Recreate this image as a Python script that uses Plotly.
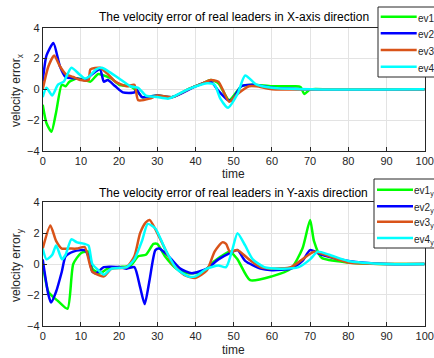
import plotly.graph_objects as go

W, H = 434, 358

names = ["ev1", "ev2", "ev3", "ev4"]
colors = ["#00FF00", "#0000FF", "#D95319", "#00FFFF"]
x_ticks = [0, 10, 20, 30, 40, 50, 60, 70, 80, 90, 100]
y_ticks = [-4, -2, 0, 2, 4]

# ---- X-axis direction velocity errors (time, value) ----
ev1_x_t = [0, 1, 2.3, 3.5, 5, 6, 7, 9, 11, 12.5, 14.5, 16, 18, 20, 23, 25, 26, 30, 34, 38, 42, 44, 46, 48.8, 52, 55, 60, 66, 67.5, 68.5, 70, 75, 100]
ev1_x_v = [-1.0, -2.2, -2.75, -1.5, 0.3, 0.2, 0.5, 0.7, 0.6, 0.5, 1.0, 0.9, 0.7, 0.3, 0.2, -0.2, -0.5, -0.4, -0.5, 0.0, 0.4, 0.6, 0.4, -0.7, 0.2, 0.3, 0.2, 0.2, 0.15, -0.3, 0.0, 0.0, 0.0]
ev2_x_t = [0, 1, 2.8, 4.5, 6, 9, 11, 13, 15, 16, 17, 19, 21, 24, 24.5, 26, 30, 34, 40, 44, 46, 48.5, 49.5, 52, 55, 60, 70, 100]
ev2_x_v = [0.5, 2.2, 3.0, 1.5, 0.8, 0.7, 0.6, 1.0, 1.3, 0.5, 0.6, 0.2, -0.2, -0.2, 0.0, -0.5, -0.4, -0.5, 0.2, 0.5, -0.1, -0.7, -0.7, 0.2, 0.3, 0.1, 0.0, 0.0]
ev3_x_t = [0, 1.5, 3, 4.5, 6, 8, 10, 12, 12.5, 15, 17, 19, 22, 24, 25, 28, 30, 34, 38, 42, 44, 46, 48.8, 51, 54, 56, 60, 70, 100]
ev3_x_v = [0.0, 1.5, 2.2, 1.5, 1.0, 0.8, 0.6, 0.6, 1.3, 1.4, 1.0, 0.5, 0.2, 0.3, -0.7, -0.6, -0.4, -0.5, 0.0, 0.4, 0.6, 0.5, -0.8, -0.3, 0.2, 0.2, 0.0, 0.0, 0.0]
ev4_x_t = [0, 1, 2.5, 4, 5.5, 7.5, 9.5, 11, 12, 14, 15.5, 17, 20, 23, 25, 27, 30, 33, 38, 43, 45, 46.5, 48.5, 51, 53, 56, 60, 70, 100]
ev4_x_v = [-0.5, 0.1, -0.4, 0.3, 0.5, 1.4, 1.0, 0.7, 0.8, 1.3, 1.4, 1.2, 0.7, 0.2, 0.1, -0.4, -0.5, -0.6, 0.0, 0.4, 0.3, -0.6, -1.2, -0.3, 0.9, 0.3, 0.1, 0.0, 0.0]

# ---- Y-axis direction velocity errors (time, value) ----
ev1_y_t = [0, 1.5, 3, 4, 6.5, 8, 10, 12, 13, 15, 17, 20, 23, 25, 27, 29, 30, 32, 35, 38, 42, 45, 49, 51, 54.3, 60, 65, 68, 70, 71, 73, 80, 90, 100]
ev1_y_v = [0.0, -1.8, -2.2, -2.4, -2.9, 0.0, 0.7, 0.8, -0.3, -0.6, -0.3, -0.2, -0.1, 0.5, 0.6, 1.3, 1.3, 0.5, -0.3, -0.6, -0.5, 0.2, 0.8, 0.3, -1.05, -0.8, -0.3, 1.0, 2.85, 1.5, 0.4, 0.1, 0.0, 0.0]
ev2_y_t = [0, 1.5, 2.2, 3.5, 5, 6, 8, 10, 11, 12, 13, 14, 15, 16, 20, 22, 24, 25.5, 26.7, 28, 29.5, 30.5, 33, 36, 39, 43, 46, 49, 51, 53, 57, 60, 65, 68, 70, 73, 80, 90, 100]
ev2_y_v = [0.3, -2.0, -2.5, -1.8, -0.5, 0.5, 0.8, 0.9, 0.9, 0.5, -0.5, -0.6, -0.4, -0.2, -0.2, -0.3, -0.2, -1.5, -2.6, -1.0, 0.9, 1.0, 0.5, -0.3, -0.6, -0.3, 0.3, 0.7, 0.9, 0.2, -0.3, -0.4, -0.3, 0.2, 0.9, 0.6, 0.2, 0.0, 0.0]
ev3_y_t = [0, 2, 3.5, 5, 7, 9, 11, 13, 16, 18, 22, 24, 25.5, 27, 28, 31, 34, 37, 40, 43, 45, 47, 48, 49, 51, 54, 57, 60, 65, 68, 71, 75, 80, 90, 100]
ev3_y_v = [1.0, 2.5, 1.5, 1.0, 1.0, 1.0, 1.1, -0.5, -0.8, -0.3, -0.2, 0.5, 2.0, 2.7, 2.85, 1.5, 0.0, -0.7, -0.9, -0.4, 0.8, 1.4, 1.3, 0.8, 0.9, 0.3, -0.2, -0.3, -0.2, 0.3, 0.8, 0.5, 0.1, 0.0, 0.0]
ev4_y_t = [0, 1, 2.5, 3.5, 4.5, 5, 6, 7.5, 9, 11, 12, 13, 15, 16, 18, 22, 24, 26, 27.5, 29.5, 32, 35, 38, 40, 43, 46, 48, 49.5, 51, 53, 55, 58, 62, 67, 70, 72, 75, 80, 90, 100]
ev4_y_v = [1.0, 0.3, 0.6, 1.2, 0.6, 0.3, 0.6, 1.6, 1.4, 1.3, 1.2, 0.0, -0.5, -0.7, -0.3, -0.2, 0.3, 1.5, 2.6, 2.3, 1.0, -0.3, -0.8, -0.8, -0.3, -0.1, -0.2, 0.8, 2.0, 1.2, 0.3, -0.2, -0.3, -0.2, 0.3, 0.8, 0.6, 0.2, 0.0, 0.0]

x_series = [(ev1_x_t, ev1_x_v), (ev2_x_t, ev2_x_v), (ev3_x_t, ev3_x_v), (ev4_x_t, ev4_x_v)]
y_series = [(ev1_y_t, ev1_y_v), (ev2_y_t, ev2_y_v), (ev3_y_t, ev3_y_v), (ev4_y_t, ev4_y_v)]

fig = go.Figure()
for i, (t, v) in enumerate(x_series):
    fig.add_trace(go.Scatter(x=t, y=v, mode="lines", name=names[i] + "<sub>x</sub>",
                             line=dict(color=colors[i], width=2.5, shape="spline", smoothing=0.6),
                             xaxis="x", yaxis="y", showlegend=False))
for i, (t, v) in enumerate(y_series):
    fig.add_trace(go.Scatter(x=t, y=v, mode="lines", name=names[i] + "<sub>y</sub>",
                             line=dict(color=colors[i], width=2.5, shape="spline", smoothing=0.6),
                             xaxis="x2", yaxis="y2", showlegend=False))

x0p, x1p = 42.7 / W, 424.7 / W
top_dom = [1 - 151 / H, 1 - 27.7 / H]
bot_dom = [1 - 325.7 / H, 1 - 202.3 / H]

axis_common = dict(showline=True, linecolor="#262626", linewidth=1, mirror=True,
                   ticks="inside", ticklen=4, tickcolor="#262626",
                   showgrid=True, gridcolor="#E3E3E3", gridwidth=1, zeroline=False,
                   tickfont=dict(family="Liberation Sans, Arial", size=11, color="#262626"))

fig.update_layout(
    width=W, height=H,
    margin=dict(l=0, r=0, t=0, b=0, autoexpand=False),
    paper_bgcolor="white", plot_bgcolor="white",
    xaxis=dict(domain=[x0p, x1p], range=[0, 100], tickvals=x_ticks, anchor="y", **axis_common),
    yaxis=dict(domain=top_dom, range=[-4, 4], tickvals=y_ticks, anchor="x", **axis_common),
    xaxis2=dict(domain=[x0p, x1p], range=[0, 100], tickvals=x_ticks, anchor="y2", **axis_common),
    yaxis2=dict(domain=bot_dom, range=[-4, 4], tickvals=y_ticks, anchor="x2", **axis_common),
    showlegend=False,
)

title_font = dict(family="Liberation Sans, Arial", size=12, color="black")
label_font = dict(family="Liberation Sans, Arial", size=12, color="#262626")
leg_font = dict(family="Liberation Sans, Arial", size=10, color="#262626")


def px(xp, yp):
    return xp / W, 1 - yp / H


ann = [
    dict(text="The velocity error of real leaders in X-axis direction", pos=(233.7, 17.5), font=title_font),
    dict(text="The velocity error of real leaders in Y-axis direction", pos=(233.7, 193), font=title_font),
    dict(text="time", pos=(233.7, 174), font=label_font),
    dict(text="time", pos=(233.7, 350), font=label_font),
    dict(text="velocity error<sub>x</sub>", pos=(17, 90), textangle=-90, font=label_font),
    dict(text="velocity error<sub>y</sub>", pos=(17, 265), textangle=-90, font=label_font),
]
for a in ann:
    xx, yy = px(*a.pop("pos"))
    fig.add_annotation(x=xx, y=yy, xref="paper", yref="paper", showarrow=False,
                       xanchor="center", yanchor="middle", **a)

# custom legend boxes (two panels), matching the MATLAB legend geometry
legends = [
    dict(box=(378, 7, 470, 77), line=(380.7, 416.7), text_x=416.5, rows=[16.7, 33.3, 50.0, 66.7], sub="x"),
    dict(box=(374, 179, 470, 248), line=(377, 413), text_x=413, rows=[189.7, 206.3, 221.8, 238.0], sub="y"),
]
for lg in legends:
    bx0, by0, bx1, by1 = lg["box"]
    (ax0, ay0), (ax1, ay1) = px(bx0, by0), px(bx1, by1)
    fig.add_shape(type="rect", xref="paper", yref="paper", x0=ax0, y0=ay1, x1=ax1, y1=ay0,
                  line=dict(color="#262626", width=1), fillcolor="white", layer="above")
    for i, ry in enumerate(lg["rows"]):
        lx0, ly = px(lg["line"][0], ry)
        lx1, _ = px(lg["line"][1], ry)
        fig.add_shape(type="line", xref="paper", yref="paper", x0=lx0, x1=lx1, y0=ly, y1=ly,
                      line=dict(color=colors[i], width=2.5), layer="above")
        tx, ty = px(lg["text_x"], ry)
        fig.add_annotation(text=names[i] + "<sub>" + lg["sub"] + "</sub>", x=tx, y=ty,
                           xref="paper", yref="paper", showarrow=False, borderpad=0,
                           xanchor="left", yanchor="middle", font=leg_font, yshift=-2)

fig.write_html("out.html", config={"displayModeBar": False},
               post_script="document.body.style.margin='0';document.body.style.overflow='hidden';")
